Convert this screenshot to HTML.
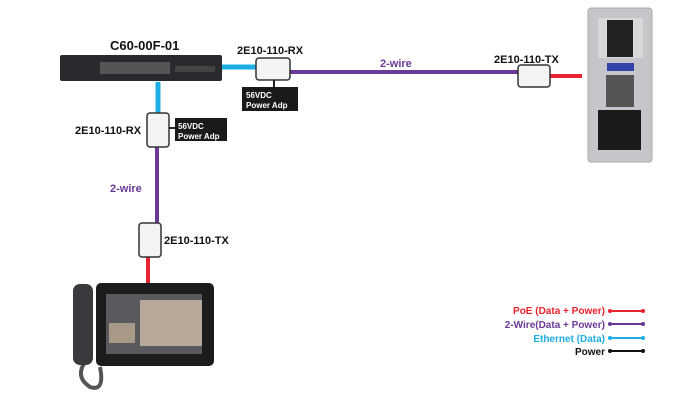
<!DOCTYPE html>
<html><head><style>body{margin:0;background:#fff}svg text{font-family:"Liberation Sans",sans-serif;font-weight:bold}</style></head><body>
<svg width="692" height="400" xmlns="http://www.w3.org/2000/svg">
<line x1="222" y1="67" x2="258" y2="67" stroke="#1eaee6" stroke-width="5"/>
<line x1="290" y1="72" x2="520" y2="72" stroke="#6a3a96" stroke-width="4"/>
<line x1="550" y1="76" x2="582" y2="76" stroke="#e8222e" stroke-width="4"/>
<line x1="158" y1="82" x2="158" y2="114" stroke="#1eaee6" stroke-width="5"/>
<line x1="157" y1="146" x2="157" y2="224" stroke="#6a3a96" stroke-width="4"/>
<line x1="148" y1="256" x2="148" y2="286" stroke="#e8222e" stroke-width="4"/>
<rect x="60" y="55" width="162" height="26" rx="2" fill="#2a2a2e"/>
<rect x="100" y="62" width="70" height="12" fill="#555"/>
<rect x="175" y="66" width="40" height="6" fill="#444"/>
<text x="110" y="50" font-size="13" fill="#111">C60-00F-01</text>
<rect x="256" y="58" width="34" height="22" rx="3" fill="#f4f4f4" stroke="#333" stroke-width="1.5"/>
<rect x="518" y="65" width="32" height="22" rx="3" fill="#f4f4f4" stroke="#333" stroke-width="1.5"/>
<rect x="147" y="113" width="22" height="34" rx="3" fill="#f4f4f4" stroke="#333" stroke-width="1.5"/>
<rect x="139" y="223" width="22" height="34" rx="3" fill="#f4f4f4" stroke="#333" stroke-width="1.5"/>
<line x1="274" y1="80" x2="274" y2="88" stroke="#222" stroke-width="2"/>
<line x1="169" y1="128" x2="176" y2="128" stroke="#222" stroke-width="2"/>
<rect x="242" y="87" width="56" height="24" fill="#1a1a1a"/>
<text x="246" y="98" font-size="8" fill="#fff">56VDC</text><text x="246" y="108" font-size="8" fill="#fff">Power Adp</text>
<rect x="175" y="118" width="52" height="23" fill="#1a1a1a"/>
<text x="178" y="129" font-size="8" fill="#fff">56VDC</text><text x="178" y="139" font-size="8" fill="#fff">Power Adp</text>
<text x="237" y="54" font-size="11" fill="#111">2E10-110-RX</text>
<text x="494" y="63" font-size="11" fill="#111">2E10-110-TX</text>
<text x="75" y="134" font-size="11" fill="#111">2E10-110-RX</text>
<text x="164" y="244" font-size="11" fill="#111">2E10-110-TX</text>
<text x="380" y="67" font-size="11" fill="#6a3a96">2-wire</text>
<text x="110" y="192" font-size="11" fill="#6a3a96">2-wire</text>
<!-- intercom -->
<rect x="588" y="8" width="64" height="154" rx="3" fill="#c4c6c9" stroke="#aaa"/>
<rect x="598" y="18" width="45" height="40" fill="#d8d8d8"/>
<rect x="607" y="20" width="26" height="37" fill="#222"/>
<rect x="607" y="63" width="27" height="8" fill="#3344aa"/>
<rect x="606" y="75" width="28" height="32" fill="#555"/>
<rect x="598" y="110" width="43" height="40" fill="#1a1a1a"/>
<!-- phone -->
<path d="M85 362 q-10 15 5 25 q15 5 10 -20" fill="none" stroke="#555" stroke-width="4"/>
<rect x="73" y="284" width="20" height="81" rx="7" fill="#3a3a3e"/>
<rect x="96" y="283" width="118" height="83" rx="5" fill="#1c1c1c"/>
<rect x="106" y="294" width="96" height="60" fill="#5a5a5e"/>
<rect x="140" y="300" width="62" height="46" fill="#b8a89a"/>
<rect x="109" y="323" width="26" height="20" fill="#a89888"/>
<text x="605" y="314" font-size="10" fill="#e8222e" text-anchor="end">PoE (Data + Power)</text>
<text x="605" y="328" font-size="10" fill="#6a3a96" text-anchor="end">2-Wire(Data + Power)</text>
<text x="605" y="342" font-size="10" fill="#1eaee6" text-anchor="end">Ethernet (Data)</text>
<text x="605" y="355" font-size="10" fill="#111" text-anchor="end">Power</text>
<g stroke-width="2">
<line x1="610" y1="311" x2="643" y2="311" stroke="#e8222e"/><circle cx="610" cy="311" r="2" fill="#e8222e"/><circle cx="643" cy="311" r="2" fill="#e8222e"/>
<line x1="610" y1="324" x2="643" y2="324" stroke="#6a3a96"/><circle cx="610" cy="324" r="2" fill="#6a3a96"/><circle cx="643" cy="324" r="2" fill="#6a3a96"/>
<line x1="610" y1="338" x2="643" y2="338" stroke="#1eaee6"/><circle cx="610" cy="338" r="2" fill="#1eaee6"/><circle cx="643" cy="338" r="2" fill="#1eaee6"/>
<line x1="610" y1="351" x2="643" y2="351" stroke="#111"/><circle cx="610" cy="351" r="2" fill="#111"/><circle cx="643" cy="351" r="2" fill="#111"/>
</g>
</svg>
</body></html>
